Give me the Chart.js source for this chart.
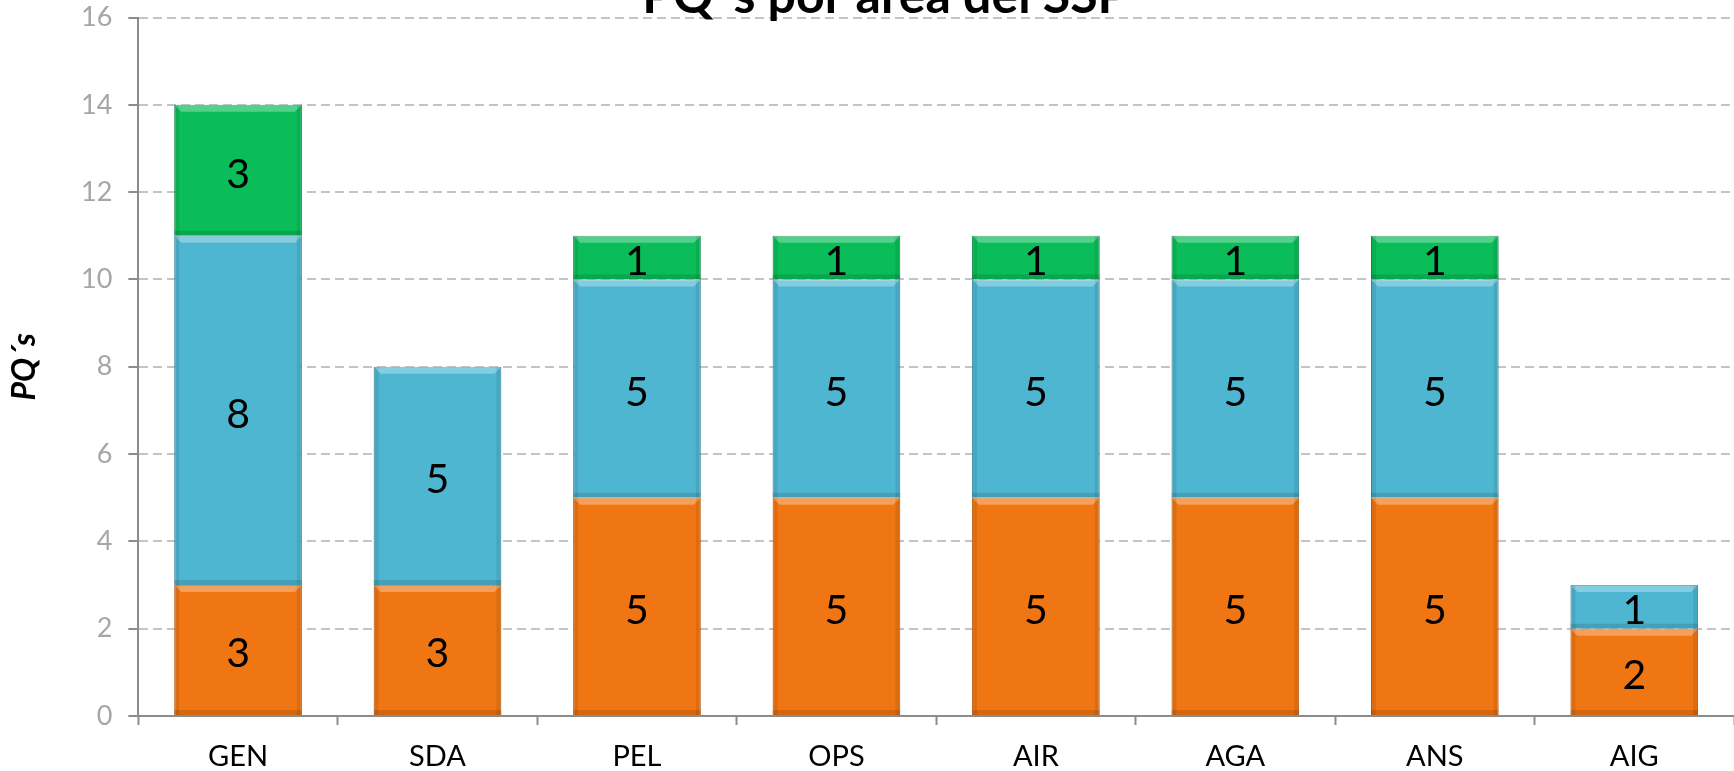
<!DOCTYPE html>
<html>
<head>
<meta charset="utf-8">
<script src="https://cdn.jsdelivr.net/npm/chart.js@4/dist/chart.umd.min.js"></script>
<style>
  html, body { margin: 0; padding: 0; background: #ffffff; overflow: hidden; }
  #barChart { display: block; position: absolute; left: 0; top: -12px; }
</style>
</head>
<body>
<canvas id="barChart" width="1734" height="800"></canvas>
<script>
// datos del grafico
var areas = ['GEN', 'SDA', 'PEL', 'OPS', 'AIR', 'AGA', 'ANS', 'AIG'];
var serieNaranja = [3, 3, 5, 5, 5, 5, 5, 2];
var serieAzul = [8, 5, 5, 5, 5, 5, 5, 1];
var serieVerde = [3, 0, 1, 1, 1, 1, 1, 0];
var tituloGrafico = 'PQ\u00b4s por \u00e1rea del SSP';
var tituloEjeY = 'PQ\u00b4s';

var fuente = 'Lato, "Open Sans", sans-serif';

// Etiquetas de valor en el centro de cada barra
var etiquetasPlugin = {
    id: 'etiquetas',
    afterDatasetsDraw: function(chart) {
        var ctx = chart.ctx;
        ctx.save();
        ctx.fillStyle = '#000000';
        ctx.font = '41px ' + fuente;
        ctx.textAlign = 'center';
        ctx.textBaseline = 'middle';
        chart.data.datasets.forEach(function(ds, i) {
            var meta = chart.getDatasetMeta(i);
            meta.data.forEach(function(bar, j) {
                var v = ds.data[j];
                if (!v) return;
                ctx.fillText(v, bar.x, (bar.y + bar.base) / 2 + 4);
            });
        });
        ctx.restore();
    }
};

// Efecto bisel sencillo sobre las barras
var biselPlugin = {
    id: 'bisel',
    afterDatasetsDraw: function(chart) {
        var ctx = chart.ctx;
        ctx.save();
        chart.data.datasets.forEach(function(ds, i) {
            var meta = chart.getDatasetMeta(i);
            meta.data.forEach(function(bar, j) {
                if (!ds.data[j]) return;
                var w = bar.width;
                var l = bar.x - w / 2;
                var t = bar.y;
                var h = bar.base - bar.y;
                // franja superior clara
                ctx.fillStyle = 'rgba(255,255,255,0.30)';
                ctx.beginPath();
                ctx.moveTo(l, t);
                ctx.lineTo(l + w, t);
                ctx.lineTo(l + w - 7, t + 7);
                ctx.lineTo(l + 7, t + 7);
                ctx.closePath();
                ctx.fill();
                // lados y base mas oscuros
                ctx.fillStyle = 'rgba(0,0,0,0.08)';
                ctx.fillRect(l, t, 5, h);
                ctx.fillRect(l + w - 5, t, 5, h);
                ctx.fillStyle = 'rgba(0,0,0,0.12)';
                ctx.fillRect(l, bar.base - 5, w, 5);
            });
        });
        ctx.restore();
    }
};

// Titulo (recortado arriba como en la imagen)
var tituloPlugin = {
    id: 'titulo',
    afterDraw: function(chart) {
        var ctx = chart.ctx;
        ctx.save();
        ctx.fillStyle = '#000000';
        ctx.font = 'bold 50px ' + fuente;
        ctx.textAlign = 'center';
        ctx.textBaseline = 'alphabetic';
        ctx.fillText(tituloGrafico, chart.chartArea.left + 747, chart.chartArea.top - 5);
        ctx.restore();
    }
};

var barCanvas = document.getElementById('barChart').getContext('2d');
var barChart = new Chart(barCanvas, {
    type: 'bar',
    data: {
        labels: areas,
        datasets: [{
            data: serieNaranja,
            backgroundColor: '#f07613',
            borderColor: '#c8600e',
            borderWidth: 1
        }, {
            data: serieAzul,
            backgroundColor: '#4fb6d1',
            borderColor: '#3a93ab',
            borderWidth: 1
        }, {
            data: serieVerde,
            backgroundColor: '#0abd59',
            borderColor: '#07964a',
            borderWidth: 1
        }]
    },
    options: {
        responsive: false,
        animation: false,
        layout: { padding: { top: 0, left: 9, right: 0, bottom: 0 } },
        datasets: {
            bar: { categoryPercentage: 1.0, barPercentage: 0.64 }
        },
        plugins: {
            legend: { display: false },
            tooltip: { enabled: false }
        },
        scales: {
            x: {
                stacked: true,
                grid: {
                    offset: true,
                    drawOnChartArea: false,
                    drawTicks: true,
                    tickLength: 9,
                    tickColor: '#8c8c8c',
                    tickWidth: 2
                },
                border: { color: '#8c8c8c', width: 2 },
                ticks: {
                    color: '#000000',
                    font: { family: fuente, size: 29, lineHeight: 1 },
                    padding: 17
                }
            },
            y: {
                stacked: true,
                min: 0,
                max: 16,
                ticks: {
                    stepSize: 2,
                    color: '#a6a6a6',
                    font: { family: fuente, size: 27, lineHeight: 1 },
                    padding: 16
                },
                grid: {
                    color: '#c4c4c4',
                    lineWidth: 2,
                    tickColor: '#8c8c8c',
                    tickLength: 10,
                    tickWidth: 2,
                    tickBorderDash: []
                },
                border: { color: '#8c8c8c', width: 2, dash: [9, 5] },
                title: {
                    display: true,
                    text: tituloEjeY,
                    color: '#000000',
                    font: { family: fuente, size: 32, weight: 'bold', style: 'italic', lineHeight: 1 },
                    padding: { top: 0, bottom: 24 }
                }
            }
        }
    },
    plugins: [biselPlugin, etiquetasPlugin, tituloPlugin]
});
</script>
</body>
</html>
